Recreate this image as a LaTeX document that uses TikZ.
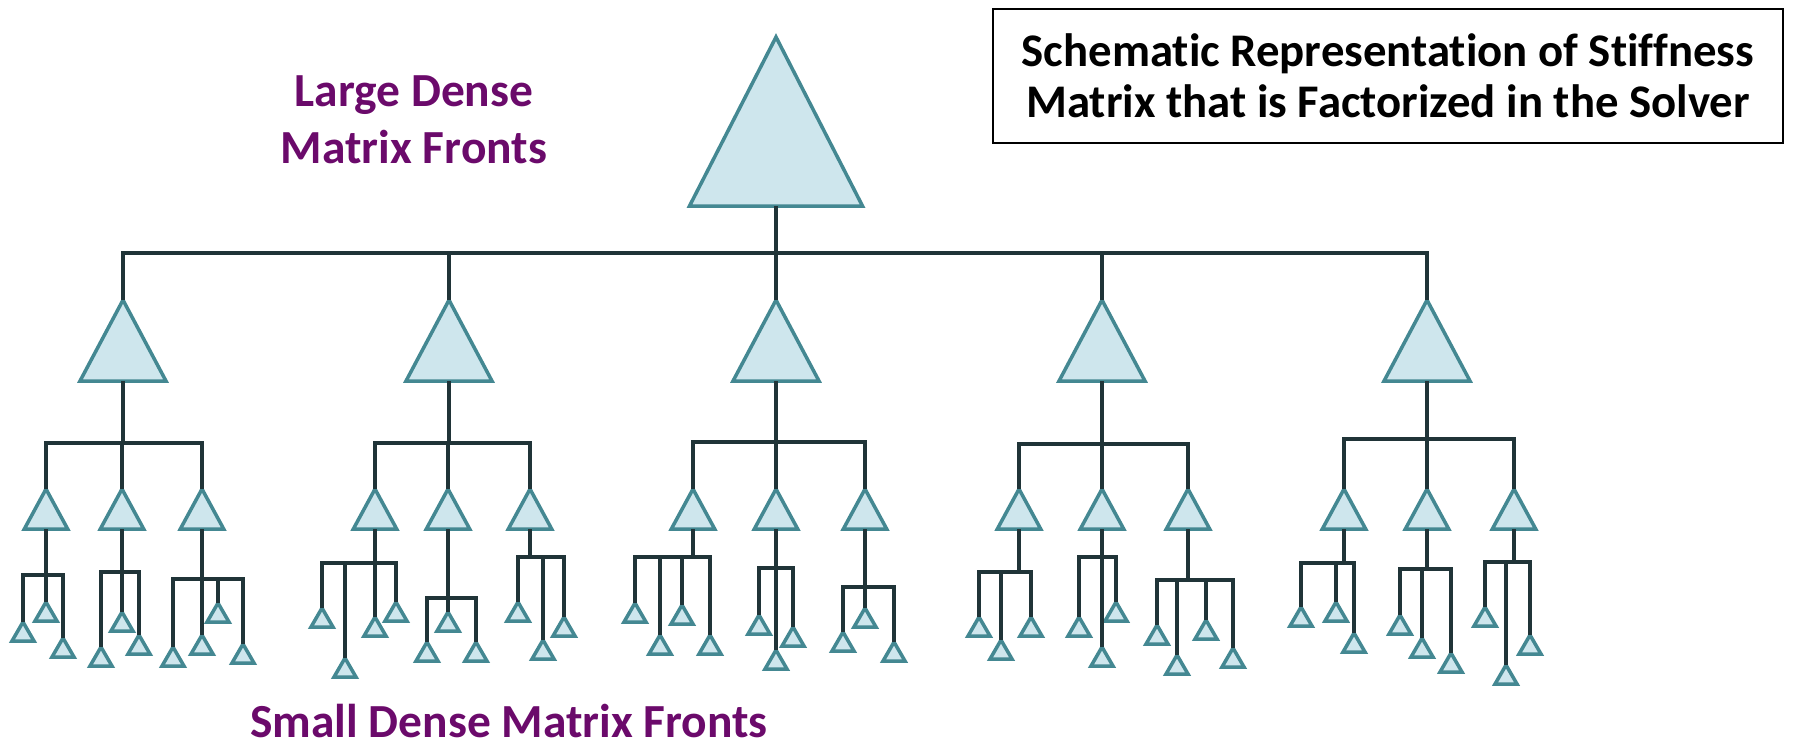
\documentclass[tikz,border=0pt]{standalone}
\usepackage{fontspec}
\setmainfont{Carlito}[Ligatures=NoCommon]
\definecolor{linkc}{RGB}{32,52,56}
\definecolor{tric}{RGB}{68,136,146}
\definecolor{trif}{RGB}{206,230,237}
\definecolor{frontc}{RGB}{107,10,107}

% triangle front: name, x, apex y, half width, height
% (name) is the apex, (name-b) the middle of the base
\newcommand\front[5]{%
  \coordinate (#1) at (#2,#3);
  \coordinate (#1-b) at (#2,#3+#5);
  \path[tri] (#1) -- (#2+#4,#3+#5) -- (#2-#4,#3+#5) -- cycle;
}
\newcommand\leaffront[3]{\front{#1}{#2}{#3}{11}{19}}
\newcommand\midfront[2]{\front{#1}{#2}{489}{21.7}{40}}

% fan-out below a parent: parent, bar y, first child, last child, inner children
\newcommand\fan[5]{%
  \coordinate (#1-j) at (#1-b |- 0,#2);
  \draw[link] (#1-b) -- (#1-j);
  \draw[link] (#3) |- (#1-j) -| (#4);
  \foreach \c in {#5} {\draw[link] (\c) -- (\c |- #1-j);}
}

\begin{document}
\begin{tikzpicture}[x=0.01cm,y=-0.01cm,
  link/.style={draw=linkc,line width=1.05pt},
  tri/.style={draw=tric,fill=trif,line width=1pt,line join=miter},
  label/.style={font=\bfseries\fontsize{13.5}{16.2}\selectfont,text=frontc,align=center,inner sep=0pt}]
\useasboundingbox (0,0) rectangle (1795,744);

% root front
\front{R}{776}{37}{86.5}{169}

% second level
\foreach \n/\x in {A/123,B/449,C/776,D/1102,E/1427} {\front{\n}{\x}{300}{43}{81}}

% third level
\midfront{A1}{46}   \midfront{A2}{122}  \midfront{A3}{202}
\midfront{B1}{375}  \midfront{B2}{448}  \midfront{B3}{530}
\midfront{C1}{693}  \midfront{C2}{776}  \midfront{C3}{865}
\midfront{D1}{1019} \midfront{D2}{1102} \midfront{D3}{1188}
\midfront{E1}{1344} \midfront{E2}{1427} \midfront{E3}{1514}

% leaves
\leaffront{A1a}{23}{622}  \leaffront{A1b}{46}{602}  \leaffront{A1c}{63}{638}
\leaffront{A2a}{101}{647} \leaffront{A2b}{122}{612} \leaffront{A2c}{139}{635}
\leaffront{A3a}{173}{647} \leaffront{A3b}{202}{635} \leaffront{A3c}{218}{603} \leaffront{A3d}{243}{644}
\leaffront{B1a}{322}{608} \leaffront{B1b}{345}{658} \leaffront{B1c}{375}{617} \leaffront{B1d}{396}{602}
\leaffront{B2a}{427}{642} \leaffront{B2b}{448}{612} \leaffront{B2c}{476}{642}
\leaffront{B3a}{518}{602} \leaffront{B3b}{543}{640} \leaffront{B3c}{564}{617}
\leaffront{C1a}{635}{603} \leaffront{C1b}{660}{635} \leaffront{C1c}{682}{605} \leaffront{C1d}{710}{635}
\leaffront{C2a}{759}{615} \leaffront{C2b}{776}{650} \leaffront{C2c}{793}{627}
\leaffront{C3a}{843}{632} \leaffront{C3b}{865}{608} \leaffront{C3c}{894}{642}
\leaffront{D1a}{979}{617} \leaffront{D1b}{1001}{640} \leaffront{D1c}{1031}{617}
\leaffront{D2a}{1079}{617} \leaffront{D2b}{1102}{647} \leaffront{D2c}{1116}{602}
\leaffront{D3a}{1157}{625} \leaffront{D3b}{1177}{655} \leaffront{D3c}{1206}{620} \leaffront{D3d}{1233}{648}
\leaffront{E1a}{1301}{607} \leaffront{E1b}{1336}{602} \leaffront{E1c}{1354}{633}
\leaffront{E2a}{1400}{615} \leaffront{E2b}{1422}{638} \leaffront{E2c}{1451}{653}
\leaffront{E3a}{1485}{607} \leaffront{E3b}{1506}{665} \leaffront{E3c}{1530}{635}

% connectors
\fan{R}{253}{A}{E}{B,C,D}
\fan{A}{443}{A1}{A3}{A2}
\fan{B}{443}{B1}{B3}{B2}
\fan{C}{442}{C1}{C3}{C2}
\fan{D}{444}{D1}{D3}{D2}
\fan{E}{439}{E1}{E3}{E2}
\fan{A1}{575}{A1a}{A1c}{A1b}
\fan{A2}{572}{A2a}{A2c}{A2b}
\fan{A3}{579}{A3a}{A3d}{A3b,A3c}
\fan{B1}{563}{B1a}{B1d}{B1b,B1c}
\fan{B2}{598}{B2a}{B2c}{B2b}
\fan{B3}{557}{B3a}{B3c}{B3b}
\fan{C1}{557}{C1a}{C1d}{C1b,C1c}
\fan{C2}{568}{C2a}{C2c}{C2b}
\fan{C3}{587}{C3a}{C3c}{C3b}
\fan{D1}{572}{D1a}{D1c}{D1b}
\fan{D2}{557}{D2a}{D2c}{D2b}
\fan{D3}{580}{D3a}{D3d}{D3b,D3c}
\fan{E1}{563}{E1a}{E1c}{E1b}
\fan{E2}{569}{E2a}{E2c}{E2b}
\fan{E3}{562}{E3a}{E3c}{E3b}

% labels
\node[label] (large) at (414,120) {Large Dense\\Matrix Fronts};
\node[label,anchor=base] (small) at (509,737) {Small Dense Matrix Fronts};
\node[draw=black,line width=0.75pt,minimum width=790*0.01cm,minimum height=134*0.01cm,
      align=center,inner sep=0pt,font=\bfseries\fontsize{13.3}{14.6}\selectfont]
  (title) at (1388,76) {Schematic Representation of Stiffness\\Matrix that is Factorized in the Solver};
\end{tikzpicture}
\end{document}
